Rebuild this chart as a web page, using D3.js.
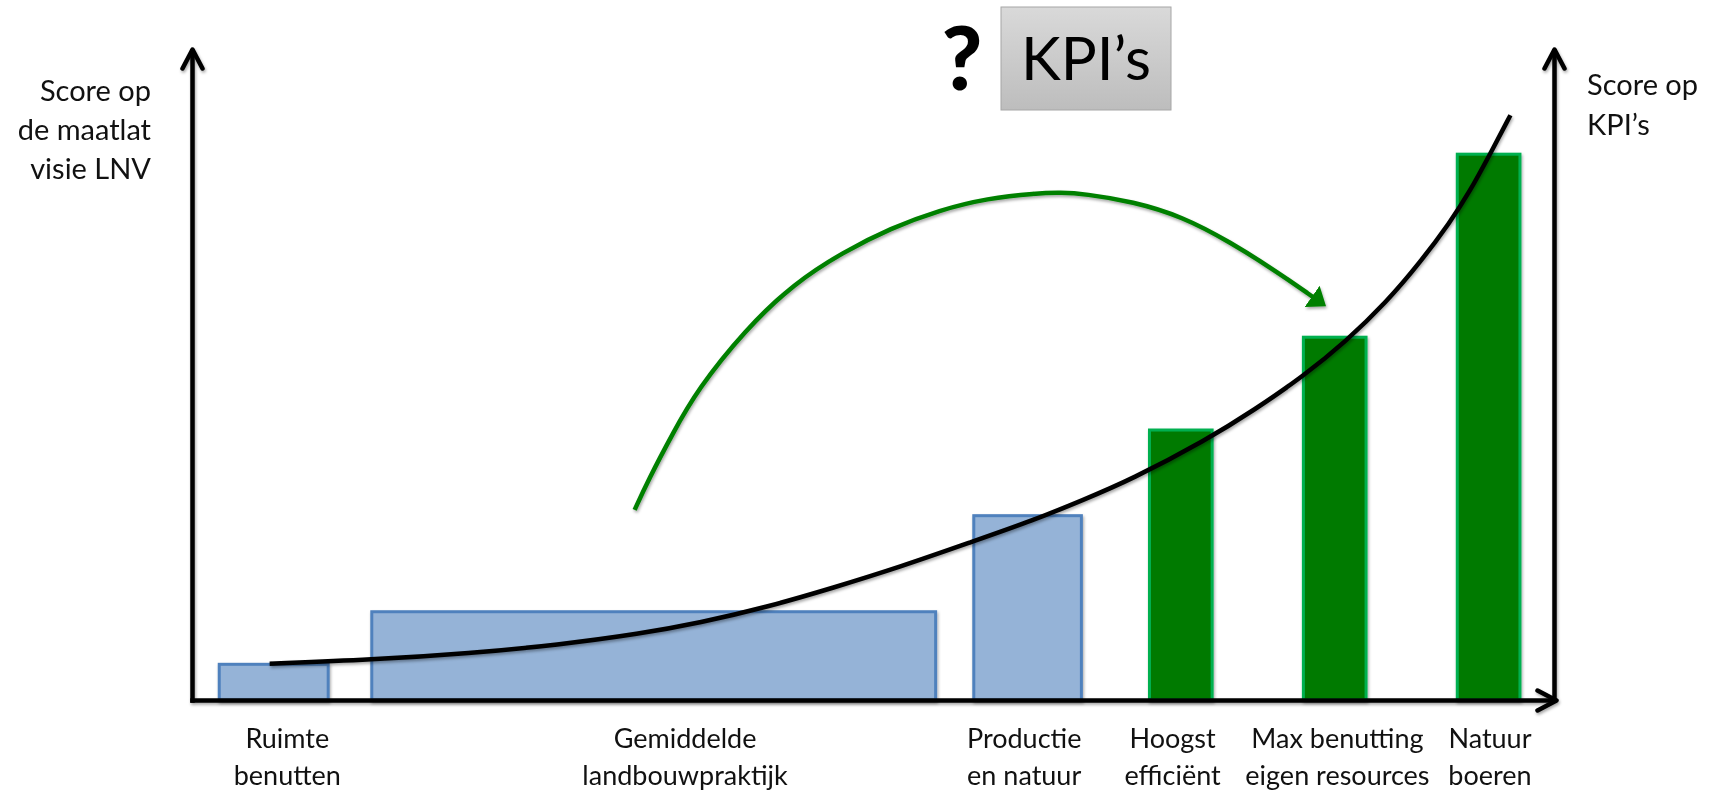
<!DOCTYPE html>
<html>
<head>
    <meta charset="utf-8">
    <script src="https://cdn.jsdelivr.net/npm/d3@7"></script>
    <title>KPI's</title>
    <style>
        * {
            margin: 0;
            padding: 0;
        }

        body {
            background: #fff;
        }

        svg {
            display: block;
            font-family: Lato, "Open Sans", sans-serif;
        }
    </style>
</head>
<body>

    <svg id="chart" width="1712" height="790"></svg>
    <script>
        // categories (two text lines each) and their scores
        var labelLines = [
            ["Ruimte", "benutten"],
            ["Gemiddelde", "landbouwpraktijk"],
            ["Productie", "en natuur"],
            ["Hoogst", "efficiënt"],
            ["Max benutting", "eigen resources"],
            ["Natuur", "boeren"]
        ];
        var barStart = [2.0, 13.2, 57.4, 70.3, 81.6, 92.9];
        var barEnd = [10.0, 54.6, 65.3, 74.9, 86.2, 97.5];
        var barScore = [5.5, 13.6, 28.4, 41.6, 55.9, 84.1];
        var barGroup = ["maatlat", "maatlat", "maatlat", "kpi", "kpi", "kpi"];
        var labelAt = [7.0, 36.2, 61.1, 72.0, 84.1, 95.3];

        // black trend curve
        var curveX = [5.7, 13.2, 20.4, 26.9, 32.9, 37.3, 42.2, 47.1, 52.0, 57.3, 61.8, 65.4, 68.9, 74.5, 78.0, 81.6, 84.7, 87.7, 90.2, 92.4, 93.8, 95.2, 96.8];
        var curveY = [5.6, 6.2, 7.2, 8.5, 10.2, 11.9, 14.3, 17.3, 20.5, 24.4, 27.7, 30.8, 33.9, 40.1, 44.7, 49.9, 55.2, 61.3, 67.5, 73.7, 78.3, 83.7, 90.1];

        // green arrow arc
        var arcX = [32.5, 33.5, 35.3, 37.1, 40.6, 44.2, 47.8, 51.3, 54.9, 58.4, 62.0, 63.8, 65.5, 69.1, 72.7, 76.2, 79.8, 82.3];
        var arcY = [29.3, 33.9, 41.1, 47.8, 57.0, 64.2, 69.0, 72.7, 75.5, 77.3, 78.1, 78.2, 78.0, 76.8, 74.5, 70.6, 65.8, 62.1];

        var leftTitle = ["Score op", "de maatlat", "visie LNV"];
        var rightTitle = ["Score op", "KPI’s"];

        var svg = d3.select("#chart");

        var x = d3.scaleLinear().domain([0, 100]).range([192, 1554]);
        var y = d3.scaleLinear().domain([0, 100]).range([700, 51]);

        var defs = svg.append("defs");

        var shadow = defs.append("filter")
            .attr("id", "shadow")
            .attr("x", "-10%").attr("y", "-10%")
            .attr("width", "120%").attr("height", "120%");
        shadow.append("feDropShadow")
            .attr("dx", 1).attr("dy", 2)
            .attr("stdDeviation", 1.5)
            .attr("flood-color", "#000")
            .attr("flood-opacity", 0.35);

        defs.append("marker")
            .attr("id", "chevron")
            .attr("markerUnits", "userSpaceOnUse")
            .attr("viewBox", "-24 -15 30 30")
            .attr("markerWidth", 30)
            .attr("markerHeight", 30)
            .attr("refX", -2)
            .attr("refY", 0)
            .attr("orient", "auto")
            .append("path")
            .attr("d", "M-19,-10L0,0L-19,10")
            .attr("fill", "none")
            .attr("stroke", "#000")
            .attr("stroke-width", 4.5)
            .attr("stroke-linejoin", "round")
            .attr("stroke-linecap", "round");

        defs.append("marker")
            .attr("id", "tri")
            .attr("markerUnits", "userSpaceOnUse")
            .attr("viewBox", "0 -14 18 28")
            .attr("markerWidth", 18)
            .attr("markerHeight", 28)
            .attr("refX", 1)
            .attr("refY", 0)
            .attr("orient", "auto")
            .append("path")
            .attr("d", "M0,-13L17,0L0,13Z")
            .attr("fill", "#008000");

        var grad = defs.append("linearGradient")
            .attr("id", "boxGrad")
            .attr("x1", 0).attr("y1", 0).attr("x2", 0).attr("y2", 1);
        grad.append("stop").attr("offset", "0%").attr("stop-color", "#d9d9d9");
        grad.append("stop").attr("offset", "100%").attr("stop-color", "#bdbdbd");

        // bars
        var bars = labelLines.map(function (d, i) {
            return { lines: d, x0: barStart[i], x1: barEnd[i], v: barScore[i], g: barGroup[i], at: labelAt[i] };
        });

        svg.append("g")
            .attr("filter", "url(#shadow)")
            .selectAll("rect")
            .data(bars)
            .enter()
            .append("rect")
            .attr("x", function (d) { return x(d.x0); })
            .attr("y", function (d) { return y(d.v); })
            .attr("width", function (d) { return x(d.x1) - x(d.x0); })
            .attr("height", function (d) { return y(0) - y(d.v); })
            .attr("fill", function (d) { return d.g == "kpi" ? "#007a00" : "#95b3d7"; })
            .attr("stroke", function (d) { return d.g == "kpi" ? "#00b050" : "#4f81bd"; })
            .attr("stroke-width", 3);

        // axes
        var axes = svg.append("g").attr("filter", "url(#shadow)");

        axes.append("g")
            .attr("transform", "translate(0," + y(0) + ")")
            .call(d3.axisBottom(x).tickValues([]).tickSizeOuter(0));
        axes.append("g")
            .attr("transform", "translate(" + x(0) + ",0)")
            .call(d3.axisLeft(y).tickValues([]).tickSizeOuter(0));
        axes.append("g")
            .attr("transform", "translate(" + x(100) + ",0)")
            .call(d3.axisRight(y).tickValues([]).tickSizeOuter(0));

        axes.selectAll(".domain")
            .attr("stroke", "#000")
            .attr("stroke-width", 4.5)
            .attr("stroke-linecap", "square")
            .attr("marker-end", "url(#chevron)");

        // curve
        var line = d3.line()
            .x(function (d) { return x(d[0]); })
            .y(function (d) { return y(d[1]); })
            .curve(d3.curveBasis);

        svg.append("path")
            .datum(d3.zip(curveX, curveY))
            .attr("d", line)
            .attr("fill", "none")
            .attr("stroke", "#000")
            .attr("stroke-width", 4.5)
            .attr("filter", "url(#shadow)");

        svg.append("path")
            .datum(d3.zip(arcX, arcY))
            .attr("d", line)
            .attr("fill", "none")
            .attr("stroke", "#008000")
            .attr("stroke-width", 4.5)
            .attr("marker-end", "url(#tri)")
            .attr("filter", "url(#shadow)");

        // category labels
        var lab = svg.append("g")
            .selectAll("text")
            .data(bars)
            .enter()
            .append("text")
            .attr("text-anchor", "middle")
            .style("font-size", "27px")
            .attr("fill", "#111");
        lab.each(function (d) {
            var t = d3.select(this);
            d.lines.forEach(function (s, j) {
                t.append("tspan")
                    .attr("x", x(d.at))
                    .attr("y", 748 + j * 37)
                    .text(s);
            });
        });

        // axis titles
        svg.append("g").selectAll("text")
            .data(leftTitle)
            .enter()
            .append("text")
            .attr("x", 151)
            .attr("y", function (d, i) { return 101 + i * 39; })
            .attr("text-anchor", "end")
            .style("font-size", "29px")
            .attr("fill", "#111")
            .text(function (d) { return d; });

        svg.append("g").selectAll("text")
            .data(rightTitle)
            .enter()
            .append("text")
            .attr("x", 1587)
            .attr("y", function (d, i) { return 95 + i * 40; })
            .style("font-size", "29px")
            .attr("fill", "#111")
            .text(function (d) { return d; });

        // header
        svg.append("text")
            .attr("x", 962)
            .attr("y", 90)
            .attr("text-anchor", "middle")
            .style("font-size", "88px")
            .style("font-weight", 900)
            .text("?");

        svg.append("rect")
            .attr("x", 1001)
            .attr("y", 7)
            .attr("width", 170)
            .attr("height", 103)
            .attr("fill", "url(#boxGrad)")
            .attr("stroke", "#a6a6a6")
            .attr("stroke-width", 1);

        svg.append("text")
            .attr("x", 1086)
            .attr("y", 80)
            .attr("text-anchor", "middle")
            .style("font-size", "60px")
            .text("KPI’s");
    </script>
</body>
</html>
